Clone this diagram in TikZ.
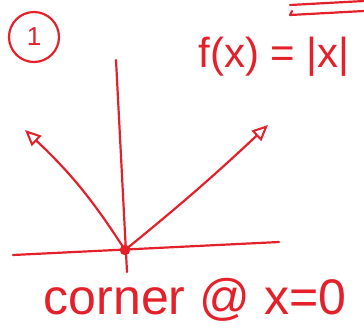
\documentclass[tikz,border=0pt]{standalone}
\usepackage{fontspec}
\setmainfont{Liberation Sans}
\usetikzlibrary{arrows.meta,positioning,calc}
\definecolor{cInk}{HTML}{E4212B}
\tikzset{
  ink/.style   ={draw=cInk,line width=2.2pt,line cap=round,line join=round},
  axis/.style  ={ink},
  curve/.style ={ink,-{Triangle[open,length=16pt,width=14pt,line width=2pt]}},
  note/.style  ={text=cInk,inner sep=0pt},
  dot/.style   ={circle,fill=cInk,draw=cInk,inner sep=0pt,minimum size=10pt},
}

\begin{document}
\begin{tikzpicture}[x=1pt, y=-1pt]
\useasboundingbox (0,0) rectangle (364,333);

% ===== labels ==============================================================
\node[note,circle,draw=cInk,line width=2.2pt,minimum size=50pt,font=\fontsize{26}{26}\selectfont] (num) at (34,37) {1};
\node[note,font=\fontsize{42}{42}\selectfont] (func) at (274,57) {f(x) = |x|};
\draw[ink] (290,5) -- (364,1);
\draw[ink] (292,11) -- (290,15) -- (364,11);

% ===== axes ================================================================
\coordinate (ytop) at (116,60);
\coordinate (ybot) at (127,272);
\coordinate (xleft) at (13,255);
\coordinate (xright) at (279,242);
\draw[axis] (ytop) -- (ybot);
\draw[axis] (xleft) -- (xright);
\node[dot] (orig) at (125,250) {};

% ===== |x| branches ========================================================
\coordinate (ltip) at (25,130);
\coordinate (rtip) at (268,125);
\draw[curve] (orig.center) to[bend right=7] (ltip);
\draw[curve] (orig.center) to[bend right=2] (rtip);

\node[note,font=\fontsize{50}{50}\selectfont] (corner) at (195,300) {corner @ x=0};
\end{tikzpicture}
\end{document}
